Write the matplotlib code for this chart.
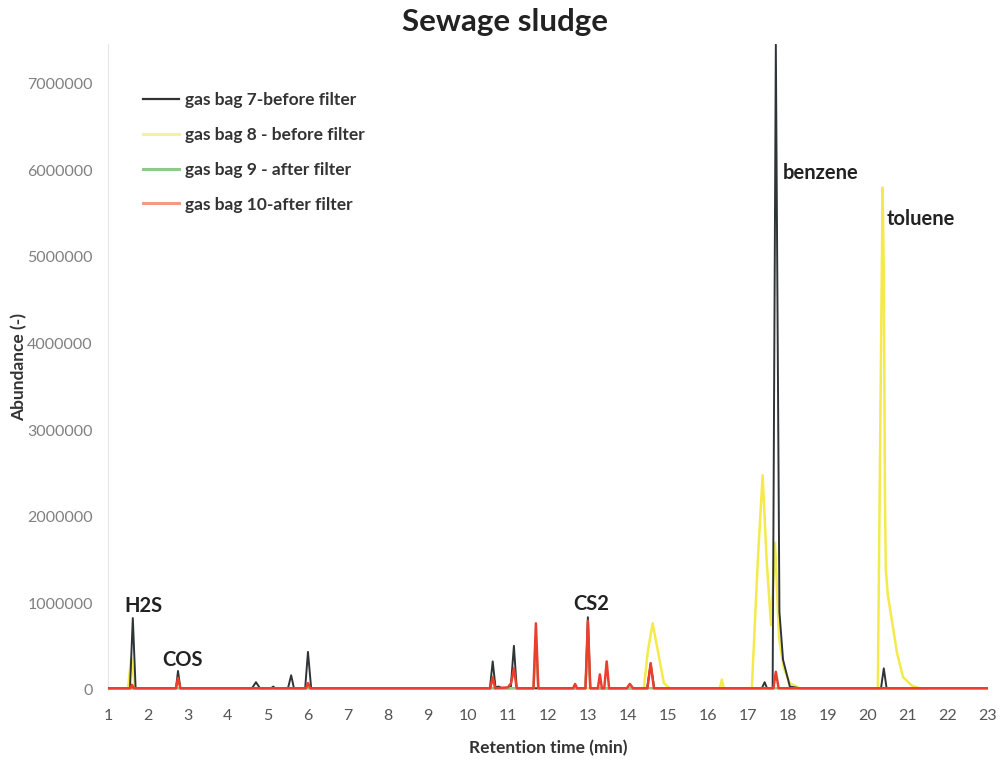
import numpy as np
import matplotlib
matplotlib.use("Agg")
import matplotlib.pyplot as plt
from matplotlib.lines import Line2D

plt.rcParams["font.family"] = ["Lato", "DejaVu Sans"]

t_bag7 = [1.0, 1.55, 1.62, 1.69, 2.70, 2.75, 2.81, 4.60, 4.70, 4.80, 5.08, 5.13, 5.18,
          5.50, 5.58, 5.65, 5.93, 6.00, 6.08, 10.55, 10.62, 10.69, 10.77, 10.85,
          11.07, 11.15, 11.22, 12.94, 13.00, 13.06, 14.48, 14.57, 14.66,
          17.35, 17.42, 17.48, 17.62, 17.70, 17.79, 17.88, 18.05, 18.30,
          20.33, 20.40, 20.47, 21.50]
v_bag7 = [0.02, 0.02, 0.83, 0.02, 0.02, 0.22, 0.02, 0.02, 0.09, 0.02, 0.02, 0.04, 0.02,
          0.02, 0.17, 0.02, 0.02, 0.44, 0.02, 0.02, 0.33, 0.03, 0.04, 0.02,
          0.02, 0.51, 0.02, 0.02, 0.84, 0.02, 0.02, 0.30, 0.02,
          0.02, 0.09, 0.02, 0.02, 7.45, 0.90, 0.35, 0.04, 0.02,
          0.02, 0.25, 0.02, 0.02]

t_bag8 = [1.0, 1.50, 1.58, 1.68, 14.40, 14.50, 14.62, 14.75, 14.90, 15.05,
          16.30, 16.35, 16.40, 17.10, 17.25, 17.37, 17.47, 17.58, 17.68, 17.78,
          17.90, 18.05, 18.30, 20.25, 20.37, 20.40, 20.43, 20.45, 20.50, 20.60,
          20.73, 20.88, 21.10, 21.30, 23.0]
v_bag8 = [0.02, 0.02, 0.37, 0.02, 0.02, 0.45, 0.77, 0.45, 0.08, 0.02,
          0.02, 0.12, 0.02, 0.02, 1.50, 2.48, 1.50, 0.75, 1.70, 0.60,
          0.25, 0.08, 0.02, 0.02, 5.80, 4.85, 2.16, 1.39, 1.10, 0.81,
          0.43, 0.15, 0.05, 0.02, 0.02]

t_bag9 = [1.0, 11.64, 11.70, 11.76, 12.94, 13.00, 13.06, 23.0]
v_bag9 = [0.02, 0.02, 0.60, 0.02, 0.02, 0.60, 0.02, 0.02]

t_bag10 = [1.0, 1.56, 1.60, 1.64, 2.70, 2.75, 2.81, 5.95, 6.00, 6.06,
           10.56, 10.62, 10.68, 11.00, 11.08, 11.15, 11.22, 11.64, 11.70, 11.76,
           12.63, 12.68, 12.73, 12.94, 13.00, 13.06, 13.25, 13.30, 13.35,
           13.41, 13.47, 13.53, 13.97, 14.05, 14.13, 14.49, 14.57, 14.65,
           17.64, 17.70, 17.77, 23.0]
v_bag10 = [0.02, 0.02, 0.06, 0.02, 0.02, 0.14, 0.02, 0.02, 0.08, 0.02,
           0.02, 0.15, 0.02, 0.03, 0.08, 0.25, 0.02, 0.02, 0.77, 0.02,
           0.02, 0.07, 0.02, 0.02, 0.80, 0.02, 0.02, 0.18, 0.02,
           0.02, 0.33, 0.02, 0.02, 0.07, 0.02, 0.02, 0.31, 0.02,
           0.02, 0.21, 0.02, 0.02]

labels = ["gas bag 7-before filter", "gas bag 8 - before filter",
          "gas bag 9 - after filter", "gas bag 10-after filter"]

pics = ["H2S", "COS", "CS2", "benzene", "toluene"]
pics_t = [1.40, 2.35, 12.63, 17.88, 20.48]
pics_v = [0.97, 0.35, 0.99, 5.97, 5.44]

# --- Figure ---
fig = plt.figure(figsize=(10.02, 7.62), dpi=100)
ax = fig.add_axes([0.1078, 0.0945, 0.878, 0.848])

M = 1e6
ax.plot(t_bag8, np.array(v_bag8) * M, color="#f4ea4c", linewidth=1.8, zorder=2)
ax.plot(t_bag7, np.array(v_bag7) * M, color="#2f3437", linewidth=1.4, zorder=3)
ax.plot(t_bag9, np.array(v_bag9) * M, color="#8ecb86", linewidth=1.8, zorder=4)
ax.plot(t_bag10, np.array(v_bag10) * M, color="#ea3f2c", linewidth=1.8, zorder=5)

for nom, t, v in zip(pics, pics_t, pics_v):
    ax.text(t, v * M, nom, fontsize=14.5, fontweight="bold", color="#222222",
            ha="left", va="center", zorder=6)

ax.set_xlim(1, 23)
ax.set_ylim(0, 7.46e6)
ax.set_xticks(range(1, 24))
ax.set_yticks(np.arange(0, 7.5e6, 1e6))
ax.set_yticklabels([f"{int(v)}" for v in np.arange(0, 7.5e6, 1e6)])
ax.tick_params(axis="both", length=0, labelsize=11.5)
ax.tick_params(axis="y", pad=11, labelcolor="#808080")
ax.tick_params(axis="x", pad=14, labelcolor="#555555")

for s in ["top", "right", "bottom"]:
    ax.spines[s].set_visible(False)
ax.spines["left"].set_color("#e6e6e6")

ax.set_xlabel("Retention time (min)", fontsize=12.5, fontweight="bold",
              color="#333333", labelpad=12)
ax.set_ylabel("Abundance (-)", fontsize=12.5, fontweight="bold", color="#333333")
ax.yaxis.set_label_coords(-0.092, 0.5)
fig.text(0.504, 0.971, "Sewage sludge", fontsize=22.5, fontweight="bold",
         color="#222222", ha="center", va="center")

# légende avec des poignées plus claires, comme sur l'original
poignees = [Line2D([], [], color="#333333", linewidth=1.6),
            Line2D([], [], color="#f3f39a", linewidth=2.2),
            Line2D([], [], color="#8ecb86", linewidth=2.2),
            Line2D([], [], color="#f39a80", linewidth=2.2)]
leg = ax.legend(poignees, labels, loc="upper left", bbox_to_anchor=(0.0398, 0.925),
                frameon=False, borderpad=0, borderaxespad=0, handlelength=2.1,
                handletextpad=0.3, labelspacing=1.08,
                prop={"weight": "bold", "size": 12.5})
for txt in leg.get_texts():
    txt.set_color("#333333")

fig.savefig("out.png", dpi=100)
